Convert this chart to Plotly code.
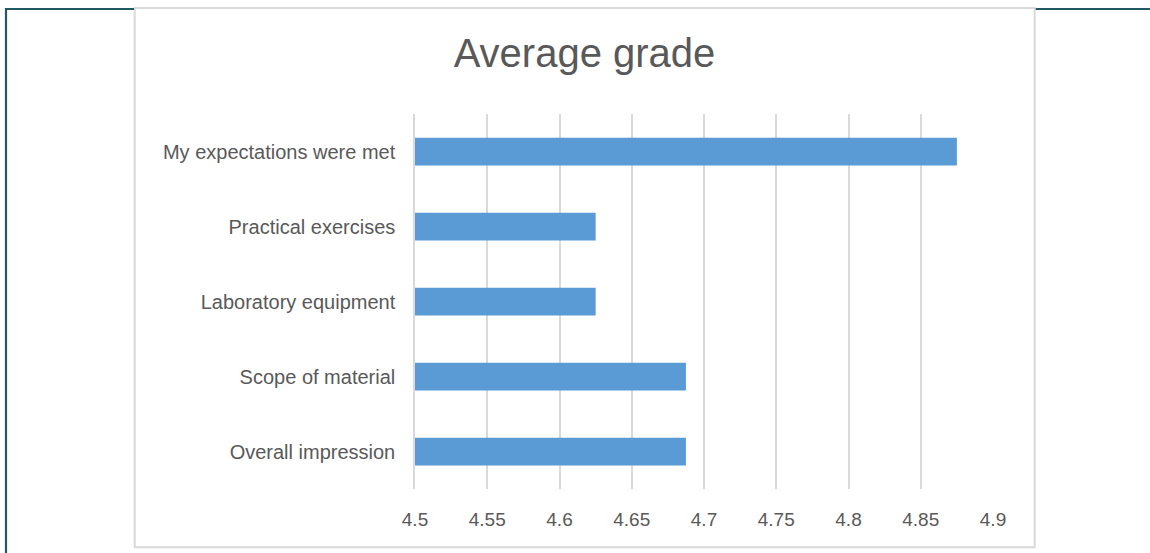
import plotly.graph_objects as go

categories = ["My expectations were met", "Practical exercises", "Laboratory equipment",
              "Scope of material", "Overall impression"]
values = [4.875, 4.625, 4.625, 4.6875, 4.6875]
tick_vals = [4.5, 4.55, 4.6, 4.65, 4.7, 4.75, 4.8, 4.85, 4.9]
tick_text = ["4.5", "4.55", "4.6", "4.65", "4.7", "4.75", "4.8", "4.85", "4.9"]

W, H = 1150, 553
ML, MR, MT, MB = 415, 157, 114, 64
PW, PH = W - ML - MR, H - MT - MB


def px(x):
    return (x - ML) / PW


def py(y):
    return 1 - (y - MT) / PH


FONT = "Liberation Sans"
TXT = "#595959"
GRID = "#D9D9D9"
TEAL = "#1F5A66"

fig = go.Figure(go.Bar(
    x=values, y=categories, orientation="h",
    marker=dict(color="#5B9BD5", line=dict(width=0)),
    width=0.37,
))

shapes = [
    # chart area border
    dict(type="rect", xref="paper", yref="paper",
         x0=px(134.7), x1=px(1034.7), y0=py(547.3), y1=py(8),
         line=dict(color=GRID, width=2), fillcolor="rgba(0,0,0,0)", layer="below"),
    # teal decorative lines
    dict(type="line", xref="paper", yref="paper",
         x0=px(6), x1=px(134), y0=py(9), y1=py(9),
         line=dict(color=TEAL, width=2.2)),
    dict(type="line", xref="paper", yref="paper",
         x0=px(6), x1=px(6), y0=py(8), y1=py(560),
         line=dict(color=TEAL, width=2.2)),
    dict(type="line", xref="paper", yref="paper",
         x0=px(1035.7), x1=px(1150), y0=py(9), y1=py(9),
         line=dict(color=TEAL, width=2.2)),
]

fig.update_layout(
    width=W, height=H,
    margin=dict(l=ML, r=MR, t=MT, b=MB, autoexpand=False),
    paper_bgcolor="white", plot_bgcolor="white",
    showlegend=False,
    bargap=0.63,
    title=dict(text="Average grade", x=584.5 / W, xanchor="center",
               y=1 - 53 / H, yanchor="middle", yref="container",
               font=dict(family=FONT, size=40, color=TXT)),
    xaxis=dict(range=[4.5, 4.9], tickmode="array", tickvals=tick_vals, ticktext=tick_text,
               showgrid=True, gridcolor=GRID, gridwidth=1.5, zeroline=False,
               showline=False, ticks="", ticklabelstandoff=17,
               tickfont=dict(family=FONT, size=19, color=TXT)),
    yaxis=dict(categoryorder="array", categoryarray=categories[::-1],
               showgrid=False, zeroline=False, showline=True, linecolor=GRID, linewidth=1.5,
               ticks="", ticklabelstandoff=14,
               tickfont=dict(family=FONT, size=20, color=TXT)),
    shapes=shapes,
)

fig.write_html(
    "out.html",
    config={"displayModeBar": False},
    post_script="document.body.style.margin='0';document.body.style.padding='0';"
                "document.documentElement.style.overflow='hidden';",
)
